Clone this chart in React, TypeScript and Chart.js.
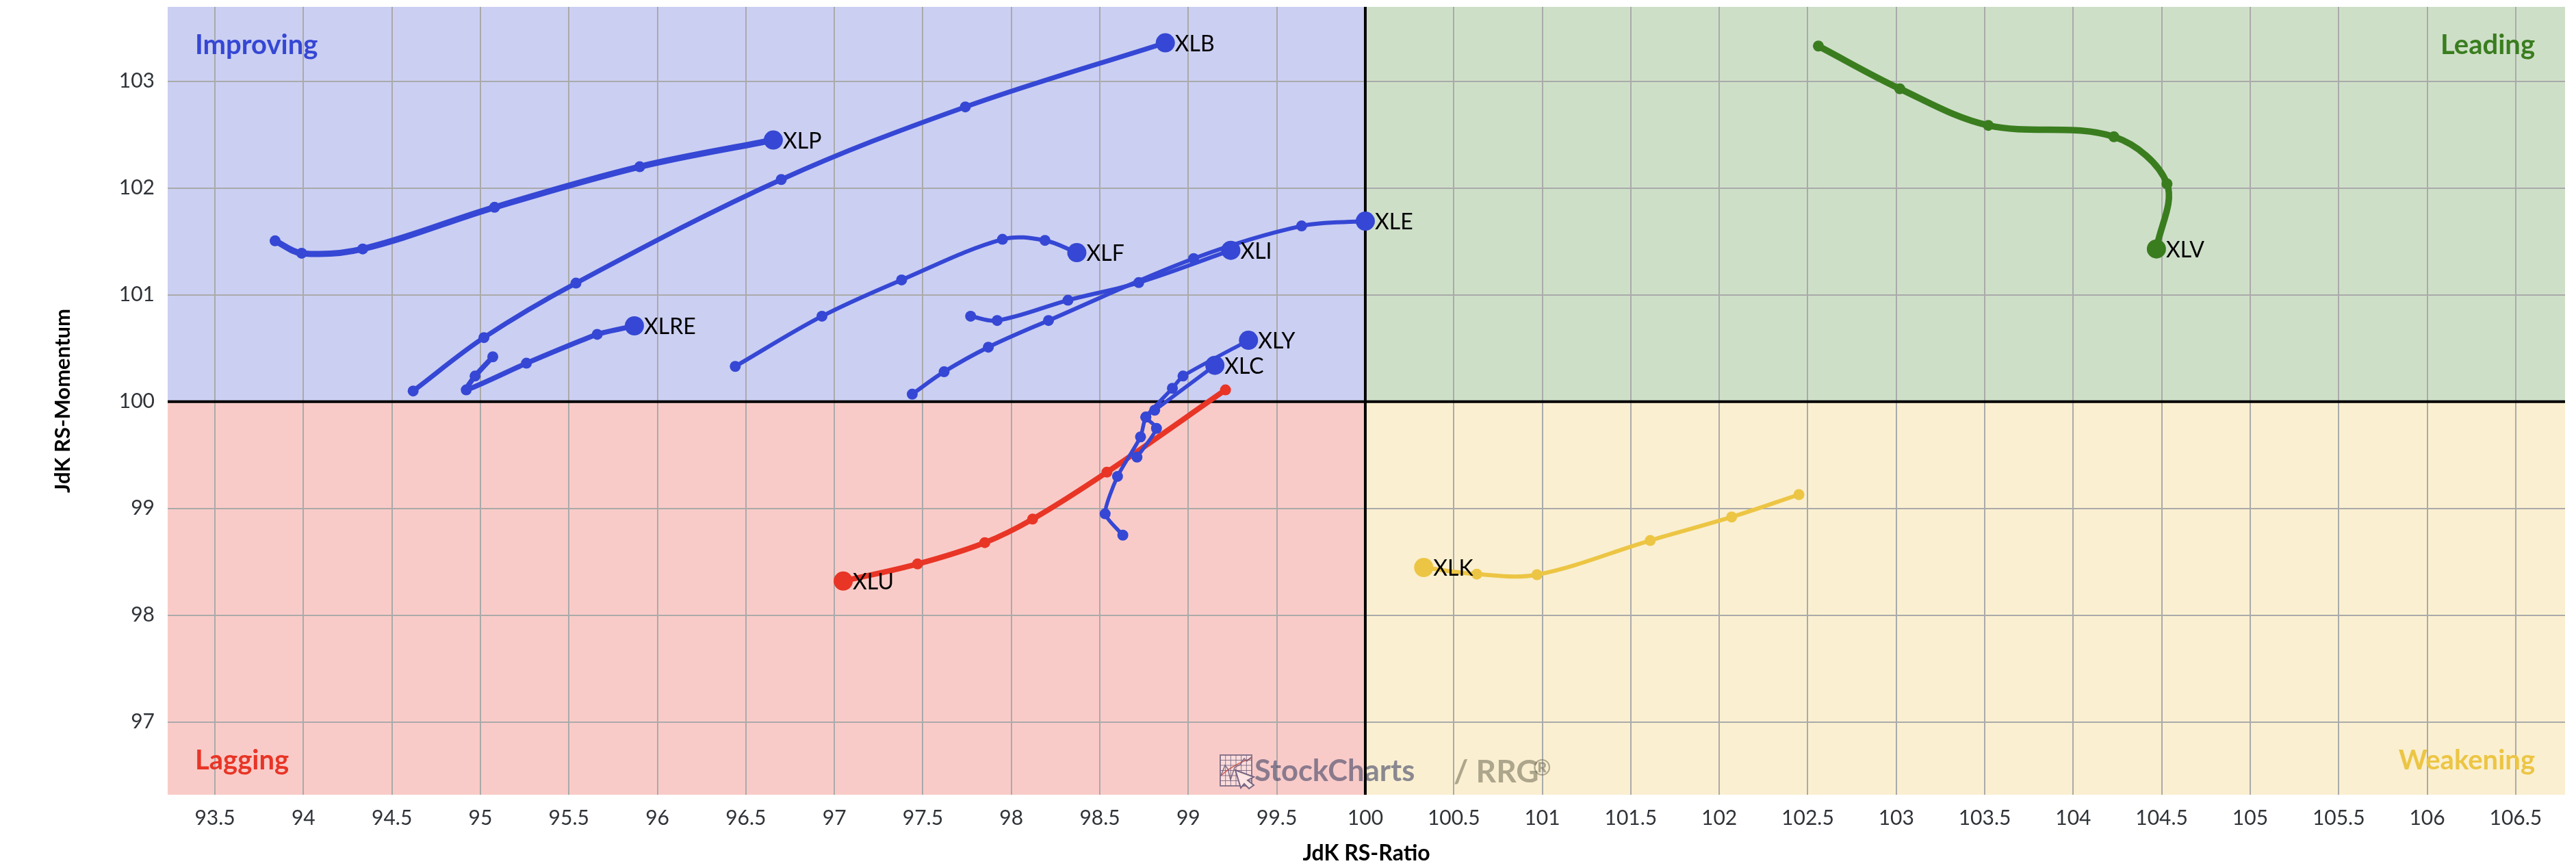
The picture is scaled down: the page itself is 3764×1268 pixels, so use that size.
import React, { useEffect, useRef } from "react";
import { Chart, registerables } from "chart.js";

Chart.register(...registerables);

const BLUE = "#3547d4";
const RED = "#e83526";
const GREEN = "#3a7d1f";
const YELLOW = "#ecc544";

const XLP_X = [93.84, 93.99, 94.335, 95.08, 95.9, 96.655];
const XLP_Y = [101.506, 101.39, 101.43, 101.82, 102.2, 102.45];
const XLB_X = [94.62, 95.02, 95.54, 96.7, 97.74, 98.87];
const XLB_Y = [100.1, 100.6, 101.11, 102.08, 102.76, 103.36];
const XLRE_X = [95.07, 94.97, 94.92, 95.26, 95.66, 95.87];
const XLRE_Y = [100.42, 100.24, 100.11, 100.36, 100.63, 100.71];
const XLF_X = [96.44, 96.93, 97.38, 97.95, 98.19, 98.37];
const XLF_Y = [100.33, 100.8, 101.14, 101.52, 101.51, 101.395];
const XLI_X = [97.77, 97.92, 98.32, 98.72, 99.24];
const XLI_Y = [100.8, 100.76, 100.95, 101.115, 101.417];
const XLE_X = [97.44, 97.62, 97.87, 98.21, 99.03, 99.64, 100.0];
const XLE_Y = [100.07, 100.28, 100.51, 100.76, 101.34, 101.645, 101.69];
const XLY_X = [98.63, 98.53, 98.6, 98.73, 98.76, 98.91, 98.97, 99.34];
const XLY_Y = [98.75, 98.95, 99.3, 99.67, 99.855, 100.125, 100.24, 100.575];
const XLC_X = [98.71, 98.82, 98.76, 98.81, 99.15];
const XLC_Y = [99.48, 99.75, 99.855, 99.92, 100.34];
const XLU_X = [99.21, 98.54, 98.12, 97.85, 97.47, 97.05];
const XLU_Y = [100.11, 99.34, 98.9, 98.68, 98.48, 98.32];
const XLK_X = [102.45, 102.07, 101.61, 100.97, 100.63, 100.33];
const XLK_Y = [99.13, 98.92, 98.7, 98.38, 98.385, 98.447];
const XLV_X = [102.56, 103.02, 103.52, 104.23, 104.53, 104.47];
const XLV_Y = [103.33, 102.93, 102.587, 102.48, 102.04, 101.43];

const QUADRANTS = ["Improving", "Leading", "Lagging", "Weakening"];
const X_TITLE = "JdK RS-Ratio";
const Y_TITLE = "JdK RS-Momentum";

const FONT = "Lato";

function pts(xs: number[], ys: number[]) {
  return xs.map((x, i) => ({ x, y: ys[i] }));
}

function series(label: string, xs: number[], ys: number[], color: string, width: number, tension = 0.35, small = 8) {
  const last = xs.length - 1;
  return {
    label,
    data: pts(xs, ys),
    showLine: true,
    borderColor: color,
    backgroundColor: color,
    borderWidth: width,
    tension,
    pointRadius: (c: any) => (c.dataIndex === last ? 14 : small),
    pointBorderWidth: 0,
    pointHoverRadius: 14,
    clip: false,
  };
}

const quadrantPlugin = {
  id: "quadrants",
  beforeDraw(chart: any) {
    const { ctx, chartArea: a, scales } = chart;
    const cx = scales.x.getPixelForValue(100);
    const cy = scales.y.getPixelForValue(100);
    ctx.save();
    ctx.fillStyle = "#cbcff2";
    ctx.fillRect(a.left, a.top, cx - a.left, cy - a.top);
    ctx.fillStyle = "#cedfc8";
    ctx.fillRect(cx, a.top, a.right - cx, cy - a.top);
    ctx.fillStyle = "#f9cbc8";
    ctx.fillRect(a.left, cy, cx - a.left, a.bottom - cy);
    ctx.fillStyle = "#faefd0";
    ctx.fillRect(cx, cy, a.right - cx, a.bottom - cy);
    ctx.restore();
  },
  beforeDatasetsDraw(chart: any) {
    const { ctx, chartArea: a, scales } = chart;
    const cx = scales.x.getPixelForValue(100);
    const cy = scales.y.getPixelForValue(100);
    ctx.save();
    // watermark
    const ix = 1783, iy = 1103, iw = 46, ih = 45;
    ctx.fillStyle = "rgba(255,255,255,0.35)";
    ctx.fillRect(ix, iy, iw, ih);
    ctx.strokeStyle = "rgba(110,95,125,0.8)";
    ctx.lineWidth = 2;
    ctx.strokeRect(ix, iy, iw, ih);
    ctx.lineWidth = 1;
    for (let i = 1; i < 6; i++) {
      ctx.beginPath();
      ctx.moveTo(ix + (iw * i) / 6, iy);
      ctx.lineTo(ix + (iw * i) / 6, iy + ih);
      ctx.moveTo(ix, iy + (ih * i) / 6);
      ctx.lineTo(ix + iw, iy + (ih * i) / 6);
      ctx.stroke();
    }
    ctx.strokeStyle = "rgba(205,75,70,0.85)";
    ctx.lineWidth = 1.5;
    ctx.beginPath();
    ctx.moveTo(ix + 1, iy + 30);
    ctx.quadraticCurveTo(ix + 18, iy + 14, ix + 45, iy + 5);
    ctx.stroke();
    ctx.strokeStyle = "rgba(110,95,125,0.85)";
    ctx.lineWidth = 1.5;
    ctx.beginPath();
    ctx.moveTo(ix + 1, iy + 30);
    ctx.lineTo(ix + 7, iy + 15);
    ctx.lineTo(ix + 11, iy + 20);
    ctx.lineTo(ix + 15, iy + 36);
    ctx.lineTo(ix + 21, iy + 18);
    ctx.lineTo(ix + 29, iy + 14);
    ctx.lineTo(ix + 35, iy + 5);
    ctx.lineTo(ix + 39, iy + 9);
    ctx.lineTo(ix + 45, iy + 3);
    ctx.stroke();
    ctx.fillStyle = "#fde6e3";
    ctx.strokeStyle = "rgba(110,95,125,0.95)";
    ctx.lineWidth = 2;
    ctx.beginPath();
    ctx.moveTo(ix + 22, iy + 22);
    ctx.lineTo(ix + 49, iy + 32);
    ctx.lineTo(ix + 40, iy + 37);
    ctx.lineTo(ix + 49, iy + 44);
    ctx.lineTo(ix + 42, iy + 49);
    ctx.lineTo(ix + 35, iy + 42);
    ctx.lineTo(ix + 30, iy + 48);
    ctx.closePath();
    ctx.fill();
    ctx.stroke();
    ctx.textBaseline = "alphabetic";
    ctx.textAlign = "left";
    ctx.font = `bold 43.5px ${FONT}`;
    ctx.fillStyle = "rgba(70,72,105,0.62)";
    ctx.fillText("StockCharts", 1833, 1141);
    ctx.fillStyle = "rgba(110,105,85,0.55)";
    ctx.font = `bold 46px ${FONT}`;
    ctx.fillText("/ RRG", 2124, 1143);
    ctx.font = `bold 32px ${FONT}`;
    ctx.fillText("®", 2240, 1133);
    // zero lines
    ctx.strokeStyle = "#000";
    ctx.lineWidth = 4;
    ctx.beginPath();
    ctx.moveTo(cx, a.top);
    ctx.lineTo(cx, a.bottom);
    ctx.moveTo(a.left, cy);
    ctx.lineTo(a.right, cy);
    ctx.stroke();
    // quadrant names
    ctx.font = `bold 40px ${FONT}`;
    ctx.textBaseline = "middle";
    ctx.textAlign = "left";
    ctx.fillStyle = BLUE;
    ctx.fillText(QUADRANTS[0], 285, 66);
    ctx.fillStyle = RED;
    ctx.fillText(QUADRANTS[2], 285, 1111);
    ctx.textAlign = "right";
    ctx.fillStyle = GREEN;
    ctx.fillText(QUADRANTS[1], 3704, 66);
    ctx.fillStyle = YELLOW;
    ctx.fillText(QUADRANTS[3], 3704, 1111);
    ctx.restore();
  },
  afterDatasetsDraw(chart: any) {
    const { ctx } = chart;
    ctx.save();
    ctx.font = `32px ${FONT}`;
    ctx.fillStyle = "#000";
    ctx.textAlign = "left";
    ctx.textBaseline = "middle";
    chart.data.datasets.forEach((d: any, i: number) => {
      const el = chart.getDatasetMeta(i).data[d.data.length - 1];
      ctx.fillText(d.label, el.x + 14, el.y + 2);
    });
    ctx.restore();
  },
};

export default function App() {
  const ref = useRef<HTMLCanvasElement>(null);
  useEffect(() => {
    document.body.style.margin = "0";
    const chart = new Chart(ref.current as HTMLCanvasElement, {
      type: "scatter",
      data: {
        datasets: [
          series("XLC", XLC_X, XLC_Y, BLUE, 5.5, 0.2),
          series("XLY", XLY_X, XLY_Y, BLUE, 5.5, 0.2),
          series("XLE", XLE_X, XLE_Y, BLUE, 6),
          series("XLI", XLI_X, XLI_Y, BLUE, 6),
          series("XLF", XLF_X, XLF_Y, BLUE, 6),
          series("XLB", XLB_X, XLB_Y, BLUE, 7),
          series("XLRE", XLRE_X, XLRE_Y, BLUE, 7.5, 0.2),
          series("XLP", XLP_X, XLP_Y, BLUE, 9),
          series("XLU", XLU_X, XLU_Y, RED, 8),
          series("XLK", XLK_X, XLK_Y, YELLOW, 6),
          series("XLV", XLV_X, XLV_Y, GREEN, 9.5),
        ] as any,
      },
      options: {
        responsive: false,
        animation: false,
        devicePixelRatio: 1,
        layout: { autoPadding: false, padding: { left: 76, top: 10, right: 16, bottom: 5 } },
        plugins: { legend: { display: false }, tooltip: { enabled: false } },
        scales: {
          x: {
            type: "linear",
            min: 93.233,
            max: 106.779,
            border: { display: false },
            grid: { color: "#aaaaaa", lineWidth: 2, drawTicks: false },
            ticks: {
              stepSize: 0.5,
              includeBounds: false,
              autoSkip: false,
              maxRotation: 0,
              padding: 16,
              color: "#2f3338",
              font: { family: FONT, size: 30 },
              callback: (v: any) => String(v),
            },
            title: {
              display: true,
              text: X_TITLE,
              color: "#000",
              padding: 0,
              font: { family: FONT, size: 32, weight: "bold", lineHeight: 1 },
            },
            afterFit: (s: any) => {
              s.height = 102;
              s.paddingLeft = 0;
              s.paddingRight = 0;
            },
          },
          y: {
            type: "linear",
            min: 96.319,
            max: 103.697,
            border: { display: false },
            grid: { color: "#aaaaaa", lineWidth: 2, drawTicks: false },
            ticks: {
              stepSize: 1,
              includeBounds: false,
              autoSkip: false,
              padding: 19,
              color: "#2f3338",
              font: { family: FONT, size: 30 },
              callback: (v: any) => String(v),
            },
            title: {
              display: true,
              text: Y_TITLE,
              color: "#000",
              padding: 0,
              font: { family: FONT, size: 31, weight: "bold", lineHeight: 1 },
            },
            afterFit: (s: any) => {
              s.width = 169;
              s.paddingTop = 0;
              s.paddingBottom = 0;
            },
          },
        },
      } as any,
      plugins: [quadrantPlugin],
    });
    return () => chart.destroy();
  }, []);
  return (
    <div style={{ position: "absolute", left: 0, top: 0, width: 3764, height: 1268 }}>
      <canvas ref={ref} width={3764} height={1268} style={{ display: "block" }} />
    </div>
  );
}
